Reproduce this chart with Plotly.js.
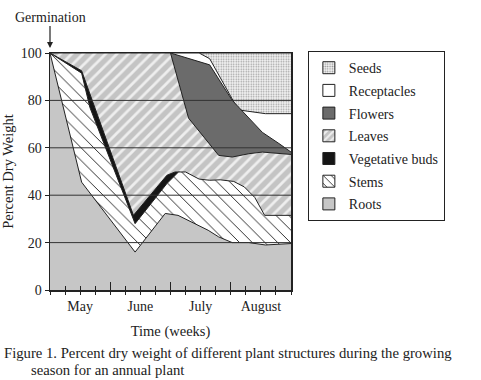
<!DOCTYPE html>
<html><head><meta charset="utf-8">
<script src="https://cdn.plot.ly/plotly-3.0.1.min.js"></script>
<style>html,body{margin:0;padding:0;background:#fff}#chart{width:481px;height:380px}</style>
</head><body><div id="chart"></div>
<script>
// Cumulative upper boundary (percent dry weight) of each structure, x in weeks since germination
const seedsWeeks = [9.9, 16];
const seedsTop = [100, 100];
const receptaclesWeeks = [8, 9.9, 10.6, 12.5, 14.3, 16];
const receptaclesTop = [100, 100, 97.6, 76, 74.4, 74.4];
const flowersWeeks = [8, 10.6, 12.1, 13.0, 14.1, 15.2, 16];
const flowersTop = [100, 95, 80, 74, 66.5, 61.8, 58.2];
const leavesWeeks = [0, 8, 9.2, 10.1, 11.2, 12.1, 13.2, 14.1, 16];
const leavesTop = [100, 100, 72.5, 65.5, 56.8, 56.1, 57.5, 58.2, 57.2];
const budsWeeks = [0, 2.1, 5.54, 7.76, 8.3, 8.6];
const budsTop = [100, 92.5, 31.5, 48.4, 49.8, 49.8];
const stemsWeeks = [0, 2.1, 2.65, 5.65, 7.76, 8.3, 8.53, 9.0, 9.9, 10.6, 11.3, 12.2, 12.9, 13.6, 14.25, 16];
const stemsTop = [100, 91.5, 77, 28, 44.9, 48.4, 49.8, 49.8, 46.8, 46.3, 46.5, 45.8, 43.5, 39, 31.5, 31.5];
const rootsWeeks = [0, 2.1, 5.65, 7.65, 8.5, 9.4, 10.5, 11.2, 12.1, 13.2, 14.3, 16];
const rootsTop = [100, 45.5, 16, 32.3, 31.5, 28.7, 25.2, 22.4, 20, 20, 19, 19.6];

const seriesNames = ['Seeds', 'Receptacles', 'Flowers', 'Leaves', 'Vegetative buds', 'Stems', 'Roots'];
const monthLabels = ['May', 'June', 'July', 'August'];
const monthLabelWeeks = [2, 6, 10, 14];
const monthBoundaryWeeks = [4, 8, 12];
const yTickVals = [0, 20, 40, 60, 80, 100];
const gridVals = [20, 40, 60, 80];

const FONT = 'Liberation Serif, Times New Roman, serif';
const INK = '#222';

const seriesData = [
  [seedsWeeks, seedsTop], [receptaclesWeeks, receptaclesTop], [flowersWeeks, flowersTop],
  [leavesWeeks, leavesTop], [budsWeeks, budsTop], [stemsWeeks, stemsTop], [rootsWeeks, rootsTop]
];
const fills = [
  {shape: '.', bg: '#f4f4f4', fg: '#9a9a9a', size: 2.5, solidity: 0.3},
  {shape: '', bg: '#ffffff'},
  {shape: '', bg: '#6b6b6b'},
  {shape: '/', bg: '#c4c4c4', fg: '#eeeeee', size: 8, solidity: 0.35},
  {shape: '', bg: '#151515'},
  {shape: '\\', bg: '#ffffff', fg: '#1a1a1a', size: 9, solidity: 0.1},
  {shape: '', bg: '#c6c6c6'}
];

const traces = [];
seriesData.forEach((d, i) => {
  const f = fills[i];
  const t = {
    type: 'scatter', mode: 'lines', x: d[0], y: d[1], fill: 'tozeroy',
    fillcolor: f.bg, line: {color: INK, width: 1}, showlegend: false, hoverinfo: 'skip',
    name: seriesNames[i]
  };
  if (f.shape) t.fillpattern = {shape: f.shape, bgcolor: f.bg, fgcolor: f.fg, size: f.size, solidity: f.solidity, fillmode: 'replace'};
  traces.push(t);
});
// legend entries (square swatches)
seriesNames.forEach((n, i) => {
  const f = fills[i];
  const m = {color: f.bg, line: {color: INK, width: 1}};
  if (f.shape) m.pattern = {shape: f.shape, bgcolor: f.bg, fgcolor: f.fg, size: Math.max(3, f.size - 2), solidity: f.solidity + 0.05, fillmode: 'replace'};
  traces.push({type: 'bar', x: [null], y: [null], name: n, marker: m, legendgroup: 'g' + i, showlegend: true, hoverinfo: 'skip'});
});
traces.push({type: 'scatter', x: [null], y: [null], xaxis: 'x2', yaxis: 'y', showlegend: false, hoverinfo: 'skip'});

const shapes = gridVals.map(v => ({type: 'line', xref: 'paper', x0: 0, x1: 1, yref: 'y', y0: v, y1: v,
  line: {color: '#333', width: 1}, layer: 'above'}));

const layout = {
  width: 481, height: 380,
  margin: {l: 50, r: 190, t: 53, b: 90},
  paper_bgcolor: '#fff', plot_bgcolor: '#fff',
  font: {family: FONT, size: 14, color: INK},
  showlegend: true,
  xaxis: {
    range: [0, 16], tickmode: 'array', tickvals: monthLabelWeeks, ticktext: monthLabels,
    ticks: 'outside', ticklen: 3, tickcolor: INK, tickwidth: 1, ticklabelstandoff: 0,
    minor: {tick0: 0, dtick: 1, ticks: 'outside', ticklen: 3, tickcolor: INK, tickwidth: 1},
    showgrid: false, zeroline: false, showline: true, linecolor: INK, linewidth: 1.5, mirror: true,
    title: {text: 'Time (weeks)', font: {size: 14.5}, standoff: 12}, fixedrange: true
  },
  xaxis2: {
    range: [0, 16], overlaying: 'x', anchor: 'y', side: 'bottom', tickmode: 'array', tickvals: monthBoundaryWeeks,
    ticks: 'inside', ticklen: 8, tickcolor: INK, tickwidth: 1, showticklabels: false,
    minor: {tick0: 0, dtick: 1, ticks: 'inside', ticklen: 4, tickcolor: INK, tickwidth: 1},
    showgrid: false, zeroline: false, showline: false
  },
  yaxis: {
    range: [0, 100], tickmode: 'array', tickvals: yTickVals, ticks: 'outside', ticklen: 4, tickcolor: INK,
    showgrid: false, zeroline: false, showline: true, linecolor: INK, linewidth: 1.5, mirror: true,
    title: {text: 'Percent Dry Weight', font: {size: 14.5}, standoff: 6}, fixedrange: true
  },
  legend: {
    x: 1.07, xanchor: 'left', y: 1.008, yanchor: 'top', bgcolor: '#fff', bordercolor: INK, borderwidth: 1,
    font: {family: FONT, size: 14, color: INK}, traceorder: 'grouped', tracegroupgap: 1.5
  },
  shapes: shapes,
  annotations: [
    {x: 0, y: 100, xref: 'x', yref: 'y', text: 'Germination', showarrow: true, arrowhead: 2, arrowsize: 1,
     arrowwidth: 1.2, arrowcolor: INK, ax: 0, ay: -36, standoff: 5, font: {size: 14}},
    {xref: 'paper', yref: 'paper', x: -0.2, y: -0.266, xanchor: 'left', yanchor: 'middle', showarrow: false,
     text: 'Figure 1. Percent dry weight of different plant structures during the growing', font: {size: 14.7}},
    {xref: 'paper', yref: 'paper', x: -0.087, y: -0.338, xanchor: 'left', yanchor: 'middle', showarrow: false,
     text: 'season for an annual plant', font: {size: 14.7}}
  ]
};
Plotly.newPlot('chart', traces, layout, {displayModeBar: false, staticPlot: true});
</script></body></html>
